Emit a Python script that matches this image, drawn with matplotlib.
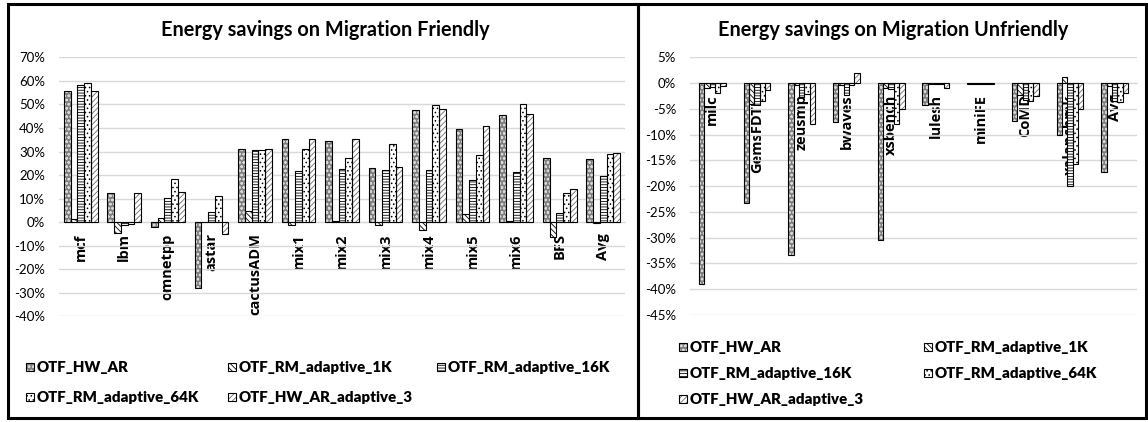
import numpy as np
import matplotlib
matplotlib.use("Agg")
import matplotlib.pyplot as plt
from matplotlib.patches import Rectangle
from matplotlib.ticker import FuncFormatter

# data (percent energy savings)
friendly_cats = ["mcf", "lbm", "omnetpp", "astar", "cactusADM", "mix1", "mix2",
                 "mix3", "mix4", "mix5", "mix6", "BFS", "Avg"]
hw_ar_f = [55.6, 12.6, -2.2, -28.0, 30.9, 35.5, 34.3, 22.9, 47.5, 39.5, 45.6, 27.4, 26.8]
rm_1k_f = [1.4, -4.5, 1.8, 0.0, 4.8, -1.1, 0.3, -1.0, -3.2, 3.5, 0.3, -6.3, -0.4]
rm_16k_f = [58.2, -1.3, 10.3, 4.2, 30.5, 21.8, 22.5, 22.2, 22.2, 17.7, 21.2, 4.0, 19.4]
rm_64k_f = [58.9, -0.8, 18.4, 11.2, 30.5, 30.9, 27.3, 33.2, 49.6, 28.5, 50.1, 12.6, 29.0]
hw_ad3_f = [55.8, 12.6, 12.7, -5.1, 30.9, 35.2, 35.2, 23.6, 47.9, 40.7, 46.0, 14.0, 29.2]

unfriendly_cats = ["milc", "GemsFDTD", "zeusmp", "bwaves", "xsbench", "lulesh",
                   "miniFE", "CoMD", "xalancbmk", "Avg"]
hw_ar_u = [-38.9, -23.3, -33.4, -7.6, -30.5, -4.2, -0.1, -7.3, -10.0, -17.3]
rm_1k_u = [-0.9, -4.0, -0.3, -0.4, -0.9, -0.1, -0.1, -2.4, 1.1, -0.5]
rm_16k_u = [-0.8, -4.3, -2.7, -2.4, -1.2, -0.1, -0.1, -3.2, -19.9, -3.4]
rm_64k_u = [-2.0, -3.4, -2.1, -0.3, -7.9, -0.1, -0.1, -3.4, -15.7, -3.7]
hw_ad3_u = [-0.5, -1.3, -8.0, 1.9, -5.0, -0.9, -0.1, -2.5, -5.0, -1.9]

series_names = ["OTF_HW_AR", "OTF_RM_adaptive_1K", "OTF_RM_adaptive_16K",
                "OTF_RM_adaptive_64K", "OTF_HW_AR_adaptive_3"]

# (face, hatch, hatch colour)
styles = [
    ("#7f7f7f", "oooo", "#d9d9d9"),
    ("white", "\\\\\\\\\\\\", "black"),
    ("white", "------", "black"),
    ("white", "....", "black"),
    ("white", "//////", "#6e6e6e"),
]

plt.rcParams["font.family"] = ["Lato", "DejaVu Sans"]
plt.rcParams["hatch.linewidth"] = 0.6

W, H = 1148, 422
fig = plt.figure(figsize=(W / 100, H / 100), dpi=100)


def px_box(x0, y0, x1, y1):
    # pixel box (top-left origin) -> figure fraction [l, b, w, h]
    return [x0 / W, 1 - y1 / H, (x1 - x0) / W, (y1 - y0) / H]


def draw_bars(ax, cats, series, width):
    x = np.arange(len(cats))
    n = len(series)
    for i, vals in enumerate(series):
        face, hatch, hc = styles[i]
        pos = x + (i - (n - 1) / 2) * width
        ax.bar(pos, vals, width, color=face, hatch=hatch, edgecolor=hc, linewidth=0, zorder=2)
        ax.bar(pos, vals, width, fill=False, edgecolor="black", linewidth=0.8, zorder=3)
    for s in ["top", "left", "right"]:
        ax.spines[s].set_visible(False)
    ax.spines["bottom"].set_position(("data", 0))
    ax.spines["bottom"].set_color("#d9d9d9")
    ax.set_xticks(x)
    # rotated Lato renders poorly, so the category names use Open Sans
    ax.set_xticklabels(cats, rotation=90, fontweight="bold", fontsize=10.5,
                       family=["Open Sans", "DejaVu Sans"])
    ax.set_xlim(-0.5, len(cats) - 0.5)
    ax.tick_params(axis="x", length=0, pad=8)
    ax.tick_params(axis="y", length=0, pad=10, labelsize=9.5)
    ax.yaxis.set_major_formatter(FuncFormatter(lambda v, p: f"{v:.0f}%"))
    ax.grid(axis="y", color="#d9d9d9", linewidth=1, zorder=0)
    ax.set_axisbelow(True)
    for lab in ax.get_xticklabels():
        lab.set_zorder(5)


def draw_legend(entries):
    for name, idx, x, y in entries:
        face, hatch, hc = styles[idx]
        l, b, w, h = px_box(x, y - 4, x + 8, y + 4)
        fig.add_artist(Rectangle((l, b), w, h, transform=fig.transFigure,
                                 facecolor=face, hatch=hatch, edgecolor=hc, linewidth=0))
        fig.add_artist(Rectangle((l, b), w, h, transform=fig.transFigure,
                                 fill=False, edgecolor="black", linewidth=0.8))
        fig.text((x + 11) / W, 1 - y / H, name, fontsize=10.8, fontweight="heavy",
                 va="center", ha="left")


# left panel
ax1 = fig.add_axes(px_box(59, 57.3, 625, 316.4))
draw_bars(ax1, friendly_cats, [hw_ar_f, rm_1k_f, rm_16k_f, rm_64k_f, hw_ad3_f], 0.155)
ax1.set_ylim(-40, 70)
ax1.set_yticks(np.arange(-40, 71, 10))
fig.text(325 / W, 1 - 30 / H, "Energy savings on Migration Friendly",
         fontsize=14.3, fontweight="bold", ha="center", va="center")

# right panel
ax2 = fig.add_axes(px_box(690, 57.3, 1137, 315))
draw_bars(ax2, unfriendly_cats, [hw_ar_u, rm_1k_u, rm_16k_u, rm_64k_u, hw_ad3_u], 0.12)
ax2.set_ylim(-45, 5)
ax2.set_yticks(np.arange(-45, 6, 5))
fig.text(893 / W, 1 - 30 / H, "Energy savings on Migration Unfriendly",
         fontsize=14.3, fontweight="bold", ha="center", va="center")

# legends
draw_legend([
    (series_names[0], 0, 26, 367), (series_names[1], 1, 228, 367), (series_names[2], 2, 437, 367),
    (series_names[3], 3, 26, 397), (series_names[4], 4, 228, 397),
])
draw_legend([
    (series_names[0], 0, 679, 347), (series_names[1], 1, 924, 347),
    (series_names[2], 2, 679, 373), (series_names[3], 3, 924, 373),
    (series_names[4], 4, 679, 399),
])

# panel frames
for x0, x1 in [(8, 638), (638, 1146)]:
    l, b, w, h = px_box(x0, 4, x1, 418)
    fig.add_artist(Rectangle((l, b), w, h, transform=fig.transFigure,
                             fill=False, edgecolor="black", linewidth=2.2))

fig.savefig("out.png", dpi=100)
